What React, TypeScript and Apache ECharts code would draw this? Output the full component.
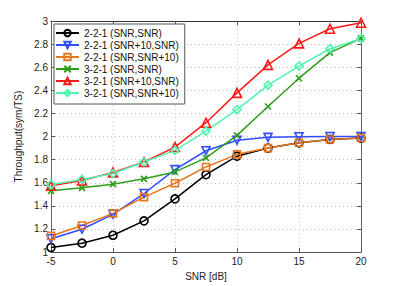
import React, { useEffect, useRef } from "react";
import * as echarts from "echarts";

const snr = [-5, -2.5, 0, 2.5, 5, 7.5, 10, 12.5, 15, 17.5, 20];
const s221_snr_snr = [1.04, 1.077, 1.146, 1.27, 1.46, 1.67, 1.83, 1.9, 1.946, 1.975, 1.987];
const s221_snr10_snr = [1.115, 1.198, 1.327, 1.507, 1.714, 1.877, 1.968, 1.993, 1.998, 2.0, 2.0];
const s221_snr_snr10 = [1.14, 1.23, 1.335, 1.476, 1.596, 1.737, 1.846, 1.9, 1.946, 1.975, 1.987];
const s321_snr_snr = [1.53, 1.556, 1.588, 1.634, 1.694, 1.815, 2.01, 2.26, 2.505, 2.726, 2.85];
const s321_snr10_snr = [1.574, 1.62, 1.69, 1.78, 1.909, 2.12, 2.378, 2.62, 2.806, 2.933, 2.985];
const s321_snr_snr10 = [1.585, 1.628, 1.68, 1.78, 1.88, 2.047, 2.233, 2.445, 2.61, 2.76, 2.847];

const names = [
  "2-2-1 (SNR,SNR)",
  "2-2-1 (SNR+10,SNR)",
  "2-2-1 (SNR,SNR+10)",
  "3-2-1 (SNR,SNR)",
  "3-2-1 (SNR+10,SNR)",
  "3-2-1 (SNR,SNR+10)",
];

const FONT = "Liberation Sans, Arial, sans-serif";

export default function App() {
  const ref = useRef<HTMLDivElement>(null);
  useEffect(() => {
    if (!ref.current) return;
    const chart = echarts.init(ref.current, null, { renderer: "svg" });
    const mk = (
      name: string,
      vals: number[],
      color: string,
      symbol: string,
      size: number,
      rotate = 0
    ) => ({
      name,
      type: "line",
      data: snr.map((x, i) => [x, vals[i]]),
      symbol,
      symbolSize: size,
      symbolRotate: rotate,
      showAllSymbol: true,
      lineStyle: { color, width: 1.5 },
      itemStyle: { color: "rgba(255,255,255,0)", borderColor: color, borderWidth: 1.6 },
      emphasis: { disabled: true },
    });
    const splitLine = { show: true, lineStyle: { color: "#bdbdbd", type: [1, 3], width: 1 } };
    chart.setOption({
      animation: false,
      textStyle: { fontFamily: FONT },
      grid: { left: 51, right: 38, top: 21, bottom: 32, show: false },
      legend: {
        orient: "vertical",
        left: 54,
        top: 24,
        padding: [3, 6, 5, 1],
        itemGap: 0,
        itemWidth: 23,
        itemHeight: 8,
        backgroundColor: "#fff",
        borderColor: "#555",
        borderWidth: 1,
        borderRadius: 0,
        textStyle: { fontSize: 10, color: "#111", fontFamily: FONT, lineHeight: 12 },
        data: names,
      },
      xAxis: [
        {
          type: "value",
          min: -5,
          max: 20,
          interval: 5,
          name: "SNR [dB]",
          nameLocation: "middle",
          nameGap: 18,
          nameTextStyle: { fontSize: 10, color: "#222", fontFamily: FONT },
          axisLine: { show: true, lineStyle: { color: "#555", width: 1 } },
          axisTick: { show: true, inside: true, length: 4, lineStyle: { color: "#555" } },
          axisLabel: { fontSize: 10, color: "#222", margin: 4, fontFamily: FONT },
          splitLine,
        },
        {
          type: "value",
          position: "top",
          min: -5,
          max: 20,
          interval: 5,
          axisLine: { show: true, onZero: false, lineStyle: { color: "#333", width: 1 } },
          axisTick: { show: true, inside: true, length: 4, lineStyle: { color: "#555" } },
          axisLabel: { show: false },
          splitLine: { show: false },
        },
      ],
      yAxis: [
        {
          type: "value",
          min: 1,
          max: 3,
          interval: 0.2,
          name: "Throughput(sym/TS)",
          nameLocation: "middle",
          nameGap: 21,
          nameTextStyle: { fontSize: 10, color: "#222", fontFamily: FONT },
          axisLine: { show: true, onZero: false, lineStyle: { color: "#666", width: 1 } },
          axisTick: { show: true, inside: true, length: 4, lineStyle: { color: "#555" } },
          axisLabel: { fontSize: 10, color: "#222", margin: 3, fontFamily: FONT },
          splitLine,
        },
        {
          type: "value",
          position: "right",
          min: 1,
          max: 3,
          interval: 0.2,
          axisLine: { show: true, onZero: false, lineStyle: { color: "#666", width: 1 } },
          axisTick: { show: true, inside: true, length: 4, lineStyle: { color: "#555" } },
          axisLabel: { show: false },
          splitLine: { show: false },
        },
      ],
      series: [
        mk(names[0], s221_snr_snr, "#000000", "circle", 8),
        mk(names[1], s221_snr10_snr, "#2f4dff", "triangle", 8, 180),
        mk(names[2], s221_snr_snr10, "#e8761e", "rect", 7),
        mk(names[3], s321_snr_snr, "#2e9e1a", "path://M0,0L10,10M10,0L0,10", 6),
        mk(names[4], s321_snr10_snr, "#ff1a1a", "triangle", 9),
        mk(names[5], s321_snr_snr10, "#4ff5ae", "diamond", 8),
      ],
    });
    return () => chart.dispose();
  }, []);
  return <div ref={ref} style={{ width: 399, height: 286, position: "absolute", left: 0, top: 0 }} />;
}
